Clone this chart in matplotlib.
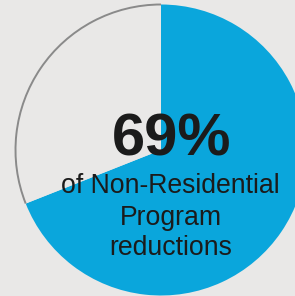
import matplotlib.pyplot as plt
from matplotlib.patches import Arc

# data
shares = [69, 31]
big_label = "69%"
sub_lines = ["of Non-Residential", "Program", "reductions"]

bg = '#e9e8e7'
blue = '#0aa6dc'

fig = plt.figure(figsize=(2.95, 2.96), dpi=100)
fig.patch.set_facecolor(bg)
ax = fig.add_axes([0, 0, 1, 1])

cx, cy, r = 161, 146, 145.5

ax.pie(shares, colors=[blue, bg], startangle=90, counterclock=False,
       center=(cx, cy), radius=r, frame=True,
       wedgeprops=dict(linewidth=0))
ax.set_xlim(0, 295)
ax.set_ylim(0, 296)
ax.set_aspect('equal')
ax.axis('off')

# grey outline only along the remaining share
rest = 360 * shares[1] / sum(shares)
ax.add_patch(Arc((cx, cy), 2 * r, 2 * r, theta1=90, theta2=90 + rest,
                 color='#8a8a8a', lw=1.4))

ax.text(172, 296 - 155, big_label, ha='center', va='baseline',
        fontsize=43, fontweight='bold', family='Liberation Sans', color='#1b1b1b')
baselines = [193, 225, 255]
for line, b in zip(sub_lines, baselines):
    ax.text(170.5, 296 - b, line, ha='center', va='baseline',
            fontsize=19.2, family='Liberation Sans', color='#1b1b1b')

fig.savefig('out.png', dpi=100, facecolor=bg)
